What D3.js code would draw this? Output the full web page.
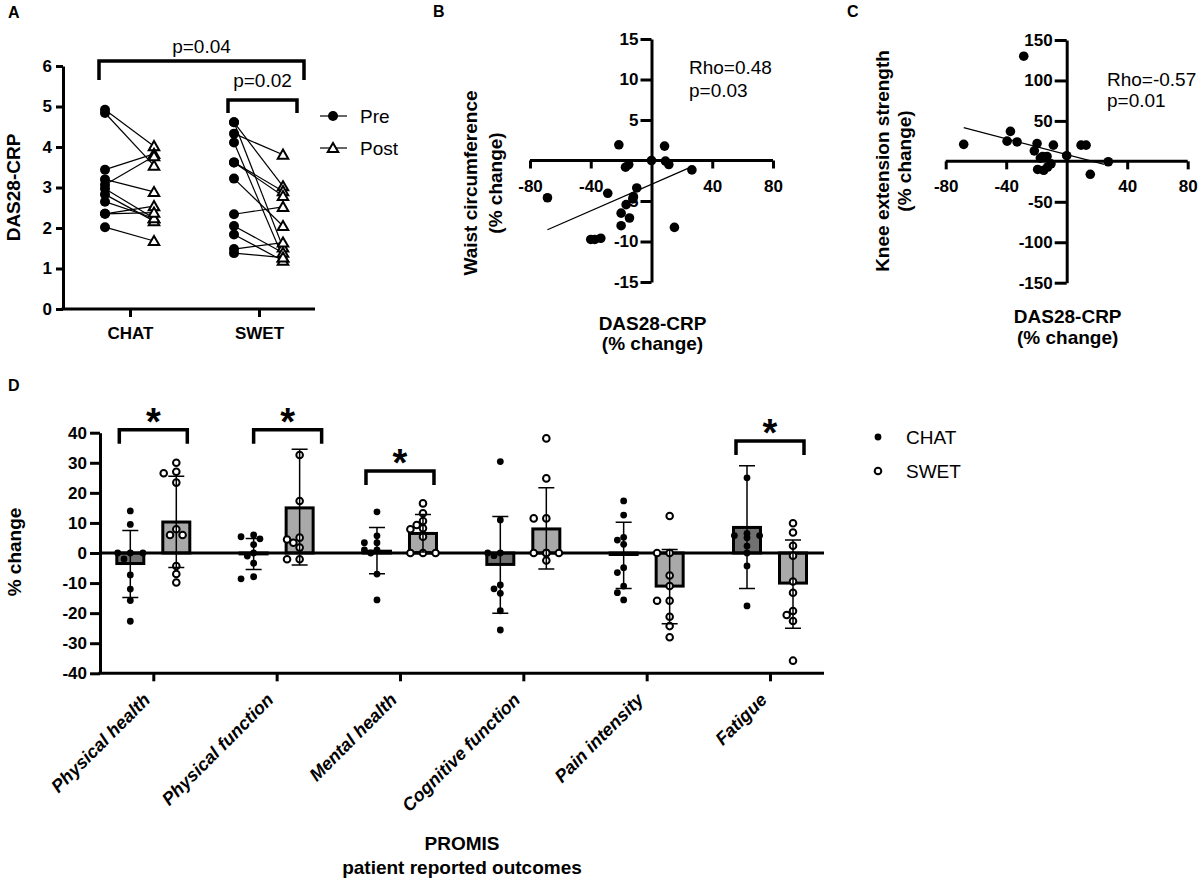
<!DOCTYPE html>
<html><head><meta charset="utf-8">
<script src="https://cdn.jsdelivr.net/npm/d3@7"></script>
<style>
body{margin:0;background:#fff}
text{font-family:"Liberation Sans",Arial,Helvetica,sans-serif;fill:#000}
</style>
</head><body>
<svg id="chart" width="1200" height="879" xmlns="http://www.w3.org/2000/svg"></svg>
<script>
// ---------------- DATA ----------------
// Panel A
const aGroups = ["CHAT", "SWET"];
const aYTicks = [0, 1, 2, 3, 4, 5, 6];
const aLegend = ["Pre", "Post"];
const chatPre  = [4.92, 4.84, 3.44, 3.20, 3.07, 2.97, 2.83, 2.65, 2.35, 2.35, 2.02];
const chatPost = [4.02, 3.54, 3.83, 2.89, 3.77, 2.24, 2.17, 2.24, 2.54, 2.38, 1.68];
const swetPre  = [4.61, 4.61, 4.33, 4.11, 3.62, 3.62, 3.22, 2.34, 2.05, 1.84, 1.48, 1.38];
const swetPost = [3.03, 1.52, 3.81, 1.27, 2.91, 2.79, 2.05, 2.52, 1.39, 1.19, 1.64, 1.27];
const aPLabels = ["p=0.04", "p=0.02"];

// Panel B
const bXTicks = [-80, -40, 40, 80];
const bYTicks = [-15, -10, -5, 5, 10, 15];
const bX = [-68.5, -40, -37.3, -33.4, -28.8, -21.5, -17.1, -15, -9.7, -11.9, -16.7, -12.3, -20, -14.5, -20, 0, 8.6, 9.2, 11.4, 26.6, 15.1];
const bY = [-4.6, -9.75, -9.75, -9.6, -4.05, 1.94, -0.83, -0.5, -3.39, -4.46, -5.45, -4.75, -6.5, -7.1, -8.05, 0, 1.78, -0.08, -0.5, -1.16, -8.26];
const bFitX = [-68.5, 24.4];
const bFitY = [-8.55, -0.95];
const bStats = ["Rho=0.48", "p=0.03"];

// Panel C
const cXTicks = [-80, -40, 40, 80];
const cYTicks = [-150, -100, -50, 50, 100, 150];
const cX = [-68.1, -37.2, -39.4, -32.8, -28.4, -19.6, -21.4, -8.8, -15.9, -13, -17.4, 0, 9.5, 12.8, -10.4, -12.6, -15.2, -19.2, 27.5, 15.6];
const cY = [21, 37, 25, 24, 130, 22, 13, 20, 6, 6, 4, 7, 20, 20, -3, -7, -11, -10, -0.5, -16];
const cFitX = [-68.1, 24.9];
const cFitY = [41.6, -3.7];
const cStats = ["Rho=-0.57", "p=0.01"];

// Panel D
const dCategories = ["Physical health", "Physical function", "Mental health", "Cognitive function", "Pain intensity", "Fatigue"];
const dGroups = ["CHAT", "SWET"];
const dYTicks = [-40, -30, -20, -10, 0, 10, 20, 30, 40];
const chatMean   = [-3.5, -0.3, 0.6, -3.8, -0.5, 8.5];
const chatSdLow  = [-14.8, -5.5, -6.9, -20, -11.8, -11.8];
const chatSdHigh = [7.5, 4.8, 8.5, 12.1, 10.2, 29];
const swetMean   = [10.3, 15, 6.5, 8, -11, -10];
const swetSdLow  = [-4.8, -4, 0.3, -5.3, -23.5, -25];
const swetSdHigh = [25.5, 34.5, 12.8, 21.7, 1.2, 4.3];
const chatPoints = [
  [14, 9.5, 0, 0, 0, -2, -7.3, -12, -15.8, -22.7],
  [6, 5.4, 4.7, 2.8, 0, -1, -3.4, -7.9, -8.6],
  [13.7, 5.7, 3.4, 3.4, 1, 1, 0, -7, -15.6],
  [30.4, 11, 0, 0, -0.9, -10.6, -11.9, -13.4, -19.2, -25.6],
  [17.3, 12.6, 5.2, 4.3, 2.9, -4.9, -6.5, -11, -13.2, -15.6],
  [25, 6.5, 5.8, 5.8, 5.1, 2.3, 0, -4.3, -17.6]
];
const swetPoints = [
  [30, 27, 26.5, 23.4, 7.9, 6, 6, -4.3, -7, -9.8],
  [32.6, 17.3, 5.1, 4.5, 3.4, 1.8, -2.1, -2.1],
  [16.5, 13.2, 10.6, 9.3, 8.2, 7.9, 5.4, 0, 0, 0],
  [38.1, 24.8, 11.5, 11.5, 0, 0, 0, 0, 0, -2.5],
  [12.3, 0, 0, -7.5, -11, -15.9, -15.9, -21.2, -24.3, -28],
  [9.9, 6.8, 2.4, -0.9, -9.5, -13.2, -19.3, -20.6, -22.6, -35.8]
];
const dSigCategories = ["Physical health", "Physical function", "Mental health", "Fatigue"];
const dSigLevel = [41, 41, 27.3, 37.2];
const dXTitle = ["PROMIS", "patient reported outcomes"];

// ---------------- DRAWING ----------------
const svg = d3.select("#chart");
const FONT = '"Liberation Sans", Arial, Helvetica, sans-serif';
const AXW = 3;
const fmt = d => String(d);

function txt(x, y, s, size, opts = {}) {
  const t = svg.append("text").attr("x", x).attr("y", y).text(s)
    .attr("font-size", size)
    .attr("font-weight", opts.bold ? "bold" : "normal")
    .attr("text-anchor", opts.anchor || "start");
  if (opts.italic) t.attr("font-style", "italic");
  if (opts.rotate !== undefined) t.attr("transform", `rotate(${opts.rotate},${x},${y})`);
  return t;
}
function styleAxis(g, size) {
  g.select(".domain").attr("stroke", "#000").attr("stroke-width", AXW);
  g.selectAll(".tick line").attr("stroke", "#000").attr("stroke-width", AXW);
  g.selectAll(".tick text").attr("font-size", size).attr("font-weight", "bold")
    .attr("font-family", FONT).attr("fill", "#000");
}

// ===== Panel A =====
txt(8, 18, "A", 16, {bold: true});
const yA = d3.scaleLinear().domain([0, 6]).range([309, 66]);
const xA = d3.scalePoint().domain(aGroups).range([130, 259]);
const aX0 = 63, aXEnd = 315;
const gAy = svg.append("g").attr("transform", `translate(${aX0},0)`)
  .call(d3.axisLeft(yA).tickValues(aYTicks).tickFormat(fmt).tickSize(7).tickSizeOuter(0).tickPadding(4));
styleAxis(gAy, 17);
svg.append("line").attr("x1", aX0 - 1.5).attr("x2", aXEnd).attr("y1", yA(0)).attr("y2", yA(0))
  .attr("stroke", "#000").attr("stroke-width", AXW);
const gAx = svg.append("g").attr("transform", `translate(0,${yA(0)})`)
  .call(d3.axisBottom(xA).tickSize(8).tickSizeOuter(0).tickPadding(10));
gAx.select(".domain").remove();
styleAxis(gAx, 17);
txt(20, (yA(0) + yA(6)) / 2, "DAS28-CRP", 19, {bold: true, anchor: "middle", rotate: -90});

const preOff = -25, postOff = 24;
const aSets = [[chatPre, chatPost], [swetPre, swetPost]];
aSets.forEach(([pre, post], gi) => {
  const cx = xA(aGroups[gi]);
  pre.forEach((v, i) => {
    svg.append("line").attr("x1", cx + preOff).attr("y1", yA(v))
      .attr("x2", cx + postOff).attr("y2", yA(post[i]))
      .attr("stroke", "#000").attr("stroke-width", 1.2);
  });
});
const tri = d3.symbol(d3.symbolTriangle, 48);
aSets.forEach(([pre, post], gi) => {
  const cx = xA(aGroups[gi]);
  pre.forEach(v => svg.append("circle").attr("cx", cx + preOff).attr("cy", yA(v)).attr("r", 5).attr("fill", "#000"));
  post.forEach(v => svg.append("path").attr("d", tri())
    .attr("transform", `translate(${cx + postOff},${yA(v) + 1})`)
    .attr("fill", "#fff").attr("stroke", "#000").attr("stroke-width", 2));
});
// brackets
function bracket(x1, x2, yTop, leg, w) {
  svg.append("path").attr("d", `M${x1},${yTop + leg}V${yTop}H${x2}V${yTop + leg}`)
    .attr("fill", "none").attr("stroke", "#000").attr("stroke-width", w || 3.5);
}
bracket(xA("CHAT") + preOff - 6, xA("SWET") + postOff + 21, 61, 19);
txt((xA("CHAT") + preOff - 6 + xA("SWET") + postOff + 21) / 2, 53, aPLabels[0], 19, {anchor: "middle"});
bracket(xA("SWET") + preOff - 6, xA("SWET") + postOff + 14, 100, 13);
txt((xA("SWET") + preOff - 6 + xA("SWET") + postOff + 14) / 2, 87, aPLabels[1], 19, {anchor: "middle"});
// legend A
[[116, "c"], [148, "t"]].forEach(([ly, k], i) => {
  svg.append("line").attr("x1", 320).attr("x2", 347).attr("y1", ly).attr("y2", ly).attr("stroke", "#000").attr("stroke-width", 1.2);
  if (k === "c") svg.append("circle").attr("cx", 333).attr("cy", ly).attr("r", 5).attr("fill", "#000");
  else svg.append("path").attr("d", tri()).attr("transform", `translate(333,${ly + 1})`).attr("fill", "#fff").attr("stroke", "#000").attr("stroke-width", 2);
  txt(360, ly + 7, aLegend[i], 19);
});

// ===== Scatter panels B & C =====
function scatter(cfg) {
  const x = d3.scaleLinear().domain([-80, 80]).range(cfg.xr);
  const y = d3.scaleLinear().domain(cfg.yd).range(cfg.yr);
  txt(cfg.letterX, 17, cfg.letter, 16, {bold: true});
  const gy = svg.append("g").attr("transform", `translate(${x(0)},0)`)
    .call(d3.axisLeft(y).tickValues(cfg.yTicks).tickFormat(fmt).tickSize(cfg.ytick).tickSizeOuter(0).tickPadding(2));
  styleAxis(gy, 17);
  const gx = svg.append("g").attr("transform", `translate(0,${y(0)})`)
    .call(d3.axisBottom(x).tickValues(cfg.xTicks).tickFormat(fmt).tickSize(8).tickSizeOuter(0).tickPadding(11));
  styleAxis(gx, 17);
  gx.select(".domain").attr("d", `M${x(-80)},0H${x(80)}`);
  svg.append("line").attr("x1", x(cfg.fitX[0])).attr("y1", y(cfg.fitY[0]))
    .attr("x2", x(cfg.fitX[1])).attr("y2", y(cfg.fitY[1])).attr("stroke", "#000").attr("stroke-width", 1.3);
  cfg.px.forEach((v, i) => svg.append("circle").attr("cx", x(v)).attr("cy", y(cfg.py[i])).attr("r", 4.8).attr("fill", "#000"));
  txt(cfg.statX, cfg.statY[0], cfg.stats[0], 19);
  txt(cfg.statX, cfg.statY[1], cfg.stats[1], 19);
  cfg.ylab.forEach((s, i) => txt(cfg.ylabX[i], cfg.ylabY, s, 19, {bold: true, anchor: "middle", rotate: -90}));
  ["DAS28-CRP", "(% change)"].forEach((s, i) => txt(x(0) + 1, cfg.xlabY[i], s, 19, {bold: true, anchor: "middle"}));
}
scatter({letter: "B", letterX: 433, xr: [530, 773], yd: [-15, 15], yr: [282, 39], yTicks: bYTicks, xTicks: bXTicks,
  ytick: 11, px: bX, py: bY, fitX: bFitX, fitY: bFitY, stats: bStats, statX: 689, statY: [74, 97],
  ylab: ["Waist circumference", "(% change)"], ylabX: [477, 502], ylabY: 183, xlabY: [330, 350]});
scatter({letter: "C", letterX: 847, xr: [945.7, 1187.7], yd: [-150, 150], yr: [282.7, 40], yTicks: cYTicks, xTicks: cXTicks,
  ytick: 12, px: cX, py: cY, fitX: cFitX, fitY: cFitY, stats: cStats, statX: 1107, statY: [86, 106.5],
  ylab: ["Knee extension strength", "(% change)"], ylabX: [889, 911], ylabY: 161, xlabY: [323, 344]});

// ===== Panel D =====
txt(8, 391, "D", 16, {bold: true});
const yD = d3.scaleLinear().domain([-40, 40]).range([673.3, 432.7]);
const xD = d3.scalePoint().domain(dCategories).range([153.3, 770]);
const grpOff = {CHAT: -23, SWET: 23};
const dX0 = 100, dXEnd = 824;
const gDy = svg.append("g").attr("transform", `translate(${dX0},0)`)
  .call(d3.axisLeft(yD).tickValues(dYTicks).tickFormat(fmt).tickSize(10).tickSizeOuter(0).tickPadding(3));
styleAxis(gDy, 17);
svg.append("line").attr("x1", dX0 - 1.5).attr("x2", dXEnd).attr("y1", yD(-40)).attr("y2", yD(-40)).attr("stroke", "#000").attr("stroke-width", AXW);
const gDx = svg.append("g").attr("transform", `translate(0,${yD(-40)})`)
  .call(d3.axisBottom(xD).tickSize(8).tickSizeOuter(0).tickFormat(""));
gDx.select(".domain").remove();
styleAxis(gDx, 17);
dCategories.forEach(c => txt(xD(c) - 2, 701, c, 18, {bold: true, italic: true, anchor: "end", rotate: -45}));
txt(21, 552, "% change", 19, {bold: true, anchor: "middle", rotate: -90});
txt(462, 850, dXTitle[0], 19, {bold: true, anchor: "middle"});
txt(462, 874, dXTitle[1], 19, {bold: true, anchor: "middle"});

const barW = 27;
const groupsD = [
  {name: "CHAT", mean: chatMean, lo: chatSdLow, hi: chatSdHigh, pts: chatPoints, fill: "#717171"},
  {name: "SWET", mean: swetMean, lo: swetSdLow, hi: swetSdHigh, pts: swetPoints, fill: "#a9a9a9"}
];
// bars
groupsD.forEach(g => dCategories.forEach((c, i) => {
  const cx = xD(c) + grpOff[g.name];
  const y0 = yD(0), y1 = yD(g.mean[i]);
  svg.append("rect").attr("x", cx - barW / 2).attr("width", barW)
    .attr("y", Math.min(y0, y1)).attr("height", Math.abs(y1 - y0))
    .attr("fill", g.fill).attr("stroke", "#000").attr("stroke-width", 3);
}));
// zero line
svg.append("line").attr("x1", dX0).attr("x2", dXEnd).attr("y1", yD(0)).attr("y2", yD(0)).attr("stroke", "#000").attr("stroke-width", AXW);
// swarm points
function swarm(values, cx, r, step) {
  const placed = [];
  values.slice().sort((a, b) => b - a).forEach(v => {
    const y = yD(v);
    const offs = [0, -step, step, -2 * step, 2 * step, -3 * step, 3 * step];
    for (const o of offs) {
      if (placed.every(q => Math.hypot(q.x - (cx + o), q.y - y) >= 2 * r - 0.5)) { placed.push({x: cx + o, y}); return; }
    }
    placed.push({x: cx, y});
  });
  return placed;
}
groupsD.forEach(g => dCategories.forEach((c, i) => {
  const cx = xD(c) + grpOff[g.name];
  swarm(g.pts[i], cx, 3.6, 6.3).forEach(p => {
    if (g.name === "CHAT") svg.append("circle").attr("cx", p.x).attr("cy", p.y).attr("r", 3.4).attr("fill", "#000");
    else svg.append("circle").attr("cx", p.x).attr("cy", p.y).attr("r", 3.3).attr("fill", "#fff").attr("stroke", "#000").attr("stroke-width", 2);
  });
}));
// error bars
groupsD.forEach(g => dCategories.forEach((c, i) => {
  const cx = xD(c) + grpOff[g.name];
  const yl = yD(g.lo[i]), yh = yD(g.hi[i]);
  svg.append("path").attr("d", `M${cx},${yl}V${yh}M${cx - 8},${yh}H${cx + 8}M${cx - 8},${yl}H${cx + 8}`)
    .attr("fill", "none").attr("stroke", "#000").attr("stroke-width", 1.5);
}));
// significance
const bracketNudge = {"Physical function": 11};
dSigCategories.forEach((c, i) => {
  const cx = xD(c) + (bracketNudge[c] || 0);
  const yt = yD(dSigLevel[i]);
  bracket(cx - 34, cx + 34, yt, 14, 3.5);
  txt(cx, yt + 5, "*", 38, {bold: true, anchor: "middle"});
});
// legend D
svg.append("circle").attr("cx", 878).attr("cy", 437).attr("r", 3.4).attr("fill", "#000");
svg.append("circle").attr("cx", 878).attr("cy", 471).attr("r", 3.3).attr("fill", "#fff").attr("stroke", "#000").attr("stroke-width", 2);
txt(906, 444, dGroups[0], 19);
txt(906, 478, dGroups[1], 19);
</script>
</body></html>
